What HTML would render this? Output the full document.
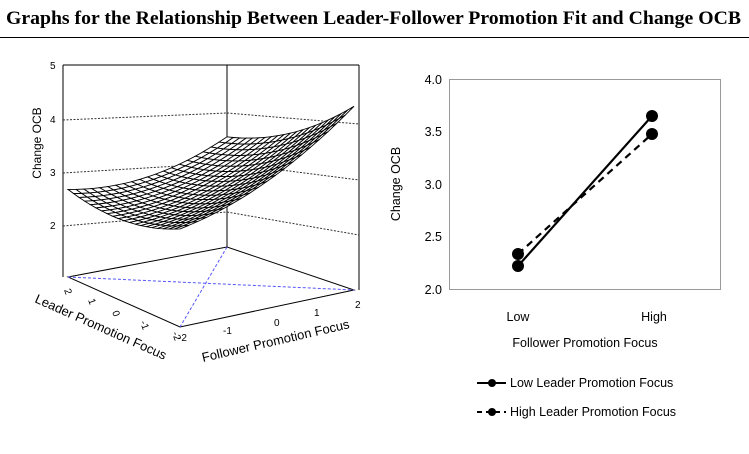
<!DOCTYPE html>
<html><head><meta charset="utf-8"><style>
html,body{margin:0;padding:0;background:#fff;width:749px;height:454px;overflow:hidden}
svg{display:block}
</style></head><body>
<svg id="s" width="749" height="454" viewBox="0 0 749 454" xmlns="http://www.w3.org/2000/svg">
<text x="6" y="24" font-family="Liberation Serif, serif" font-weight="bold" font-size="19" textLength="735" lengthAdjust="spacingAndGlyphs">Graphs for the Relationship Between Leader-Follower Promotion Fit and Change OCB</text>
<line x1="0" y1="37.5" x2="749" y2="37.5" stroke="#000" stroke-width="1"/>

<g stroke="#000" fill="none" stroke-width="1">
<line x1="63" y1="65" x2="359" y2="65"/>
<line x1="63" y1="65" x2="63" y2="277"/>
<line x1="359" y1="65" x2="359" y2="290"/>
<line x1="227" y1="65" x2="227" y2="247"/>
<g stroke-dasharray="2,1.5" stroke="#333">
<line x1="63" y1="120" x2="227" y2="113"/><line x1="227" y1="113" x2="359" y2="124"/>
<line x1="63" y1="173" x2="227" y2="163"/><line x1="227" y1="163" x2="359" y2="180"/>
<line x1="63" y1="226" x2="227" y2="212"/><line x1="227" y1="212" x2="359" y2="235"/>
</g>
<polygon points="68,277 227,247 354,290 180,327"/>
<g stroke="#55f" stroke-dasharray="3,2">
<line x1="68" y1="277" x2="354" y2="290"/><line x1="227" y1="247" x2="180" y2="327"/>
</g>
</g>
<g id="mesh" stroke="#000" stroke-width="0.9" fill="#fff"></g>
<g font-family="Liberation Sans, sans-serif" font-size="10" fill="#000">
<text x="50" y="69">5</text><text x="50" y="123">4</text><text x="50" y="176">3</text><text x="50" y="229">2</text>
<text transform="translate(41,143) rotate(-90)" text-anchor="middle" font-size="12">Change OCB</text>
<text transform="translate(64,290) rotate(70)">2</text>
<text transform="translate(88,300) rotate(70)">1</text>
<text transform="translate(112,312) rotate(70)">0</text>
<text transform="translate(140,322) rotate(70)">-1</text>
<text transform="translate(172,333) rotate(70)">-2</text>
<text x="178" y="341">-2</text>
<text x="223" y="334">-1</text><text x="274" y="326">0</text><text x="314" y="316">1</text><text x="355" y="308">2</text>
<text transform="translate(34,302) rotate(24)" font-size="13">Leader Promotion Focus</text>
<text transform="translate(203,362) rotate(-13)" font-size="13">Follower Promotion Focus</text>
</g>

<g font-family="Liberation Sans, DejaVu Sans, sans-serif" fill="#000">
<rect x="449.5" y="79.5" width="271" height="210" fill="none" stroke="#999" stroke-width="1"/>
<g font-size="12.5" text-anchor="end">
<text x="442" y="84">4.0</text><text x="442" y="136">3.5</text><text x="442" y="189">3.0</text><text x="442" y="241">2.5</text><text x="442" y="294">2.0</text>
</g>
<text transform="translate(400,184) rotate(-90)" text-anchor="middle" font-size="12.5">Change OCB</text>
<text x="518" y="321" text-anchor="middle" font-size="12.5">Low</text>
<text x="654" y="321" text-anchor="middle" font-size="12.5">High</text>
<text x="585" y="347" text-anchor="middle" font-size="12.5">Follower Promotion Focus</text>
<line x1="518" y1="266" x2="652" y2="116" stroke="#000" stroke-width="2.2"/>
<line x1="518" y1="254" x2="652" y2="134" stroke="#000" stroke-width="2.2" stroke-dasharray="7,5"/>
<circle cx="518" cy="266" r="6"/><circle cx="518" cy="254" r="6"/>
<circle cx="652" cy="116" r="6"/><circle cx="652" cy="134" r="6"/>
<line x1="477" y1="383" x2="506" y2="383" stroke="#000" stroke-width="2"/><circle cx="492" cy="383" r="4"/>
<text x="510" y="387" font-size="12.5">Low Leader Promotion Focus</text>
<line x1="477" y1="412" x2="506" y2="412" stroke="#000" stroke-width="2" stroke-dasharray="5,4"/><circle cx="492" cy="412" r="4"/>
<text x="510" y="416" font-size="12.5">High Leader Promotion Focus</text>
</g>
</svg>
<script>
(function(){
var F={lb:[68,277],lf:[180,327],rf:[354,290],rb:[227,247]};
function z(u,v){return 2.8+0.2575*u-0.2*v+0.066*u*u+0.055*v*v-0.075*u*v;}
function P(u,v){
 var s=(u+2)/4,t=(v+2)/4;
 var x=(1-s)*(1-t)*F.lf[0]+s*(1-t)*F.rf[0]+(1-s)*t*F.lb[0]+s*t*F.rb[0];
 var y=(1-s)*(1-t)*F.lf[1]+s*(1-t)*F.rf[1]+(1-s)*t*F.lb[1]+s*t*F.rb[1];
 return [x,y-(z(u,v)-1)*52.5];
}
var N=20,q=[];
for(var i=0;i<N;i++)for(var j=0;j<N;j++){
 var u0=-2+4*i/N,u1=-2+4*(i+1)/N,v0=-2+4*j/N,v1=-2+4*(j+1)/N;
 q.push({d:u0+v0,p:[P(u0,v0),P(u1,v0),P(u1,v1),P(u0,v1)]});
}
q.sort(function(a,b){return b.d-a.d;});
var g=document.getElementById('mesh'),h='';
q.forEach(function(o){h+='<polygon points="'+o.p.map(function(p){return p[0].toFixed(1)+','+p[1].toFixed(1)}).join(' ')+'"/>';});
g.innerHTML=h;
})();
</script>
</body></html>
